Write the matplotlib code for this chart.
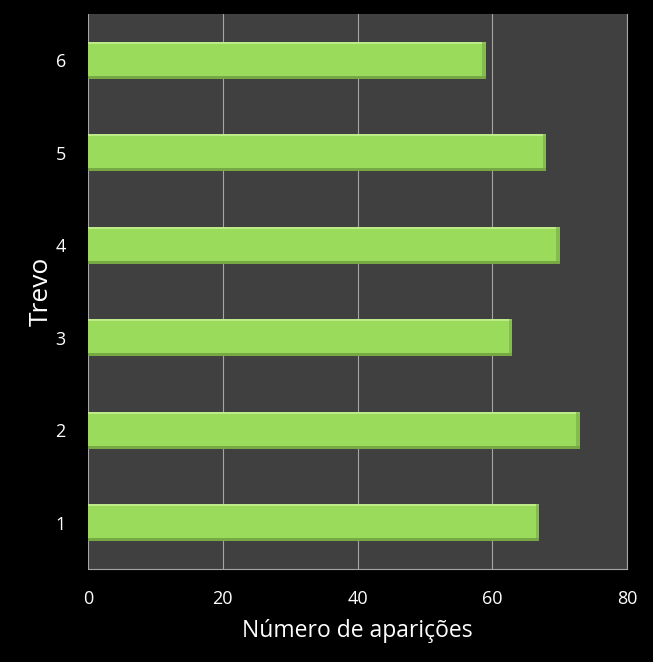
import matplotlib
matplotlib.use("Agg")
import matplotlib.pyplot as plt

# data
categories = ["1", "2", "3", "4", "5", "6"]
values = [67, 73, 63, 70, 68, 59]
xticks = [0, 20, 40, 60, 80]

BAR_COLOR = "#9BDB5B"
LIGHT = "#BDEB88"
DARK = "#76A844"
BG = "#404040"

plt.rcParams["font.family"] = ["Open Sans", "DejaVu Sans"]

fig = plt.figure(figsize=(6.53, 6.62), dpi=100, facecolor="black")
ax = fig.add_axes([0.1348, 0.1405, 0.8254, 0.8384])
ax.set_facecolor(BG)

ypos = list(range(1, len(categories) + 1))
h = 0.4
ax.barh(ypos, values, height=h, color=BAR_COLOR, zorder=3)
# bevel: darker lower strip, lighter upper strip, darker right end
ax.barh([y - h / 2 + 0.015 for y in ypos], values, height=0.03, color=DARK, zorder=4)
ax.barh([y + h / 2 - 0.012 for y in ypos], values, height=0.024, color=LIGHT, zorder=4)
ax.barh(ypos, [0.5] * len(values), left=[v - 0.5 for v in values], height=h,
        color=DARK, alpha=0.6, zorder=5)

ax.set_xlim(0, 80)
ax.set_ylim(0.5, 6.5)
ax.set_xticks(xticks)
ax.set_yticks(ypos)
ax.set_yticklabels(categories)
ax.grid(axis="x", color="#A6A6A6", linewidth=0.8, zorder=1)
ax.tick_params(colors="white", labelsize=13, length=0)
ax.tick_params(axis="x", pad=15)
ax.tick_params(axis="y", pad=16)
for side in ["top", "left"]:
    ax.spines[side].set_visible(False)
for side in ["right", "bottom"]:
    ax.spines[side].set_color("#A6A6A6")
    ax.spines[side].set_linewidth(0.8)

ax.set_xlabel("Número de aparições", color="white", fontsize=16.5, labelpad=8)
ax.set_ylabel("Trevo", color="white", fontsize=19, labelpad=1)

fig.savefig("out.png", dpi=100, facecolor="black")
